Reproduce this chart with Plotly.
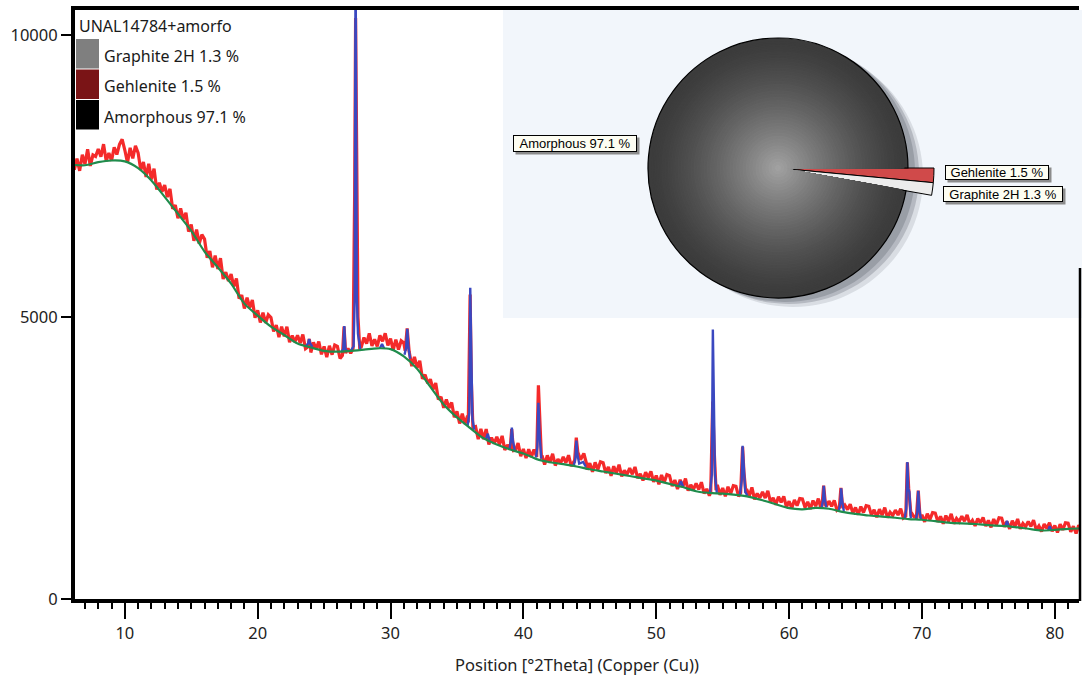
import numpy as np
import plotly.graph_objects as go

# ---------------- data ----------------
# measured pattern (red), 0.2 deg grid starting at 6.0 deg
red_start = 6.0
red_step = 0.2
red_base = [
    7870, 7614, 7808, 7592, 7876,   # 6
    7710, 7974, 7678, 7872, 7846,   # 7
    7980, 7842, 8064, 7766, 7908,   # 8
    7770, 8010, 7880, 8060, 8150,   # 9
    7960, 7734, 7998, 7812, 8036,   # 10
    7910, 7604, 7748, 7482, 7716,   # 11
    7440, 7630, 7260, 7380, 7220,   # 12
    7340, 7126, 7272, 6918, 6984,   # 13
    6750, 6926, 6732, 6848, 6514,   # 14
    6640, 6350, 6550, 6300, 6460,   # 15
    6380, 6050, 6170, 5880, 6090,   # 16
    5850, 6042, 5674, 5796, 5638,   # 17
    5760, 5542, 5684, 5326, 5388,   # 18
    5150, 5344, 5168, 5302, 4986,   # 19
    5118, 4902, 5078, 4894, 5038,   # 20
    4990, 4744, 4858, 4644, 4830,   # 21
    4656, 4828, 4552, 4668, 4560,   # 22
    4676, 4538, 4688, 4438, 4524,   # 23
    4370, 4550, 4434, 4566, 4338,   # 24
    4478, 4288, 4490, 4332, 4502,   # 25
    4480, 4264, 4408, 4224, 4440,   # 26
    4356, 4580, 4356, 4524, 4468,   # 27
    4636, 4528, 4708, 4488, 4604,   # 28
    4480, 4672, 4568, 4712, 4496,   # 29
    4618, 4412, 4598, 4424, 4578,   # 30
    4540, 4272, 4364, 4128, 4292,   # 31
    4096, 4224, 3904, 3976, 3824,   # 32
    3896, 3718, 3828, 3538, 3584,   # 33
    3390, 3536, 3386, 3484, 3222,   # 34
    3328, 3112, 3288, 3104, 3248,   # 35
    3200, 2948, 3056, 2836, 3016,   # 36
    2836, 3012, 2740, 2860, 2756,   # 37
    2876, 2740, 2892, 2644, 2732,   # 38
    2580, 2756, 2636, 2764, 2532,   # 39
    2659, 2498, 2656, 2520, 2652,   # 40
    2628, 2440, 2545, 2384, 2547,   # 41
    2418, 2574, 2367, 2478, 2407,   # 42
    2518, 2416, 2549, 2356, 2437,   # 43
    2322, 2469, 2374, 2481, 2295,   # 44
    2409, 2256, 2422, 2294, 2434,   # 45
    2418, 2234, 2343, 2186, 2353,   # 46
    2228, 2382, 2173, 2282, 2209,   # 47
    2318, 2212, 2341, 2144, 2221,   # 48
    2102, 2249, 2154, 2261, 2075,   # 49
    2189, 2034, 2198, 2068, 2206,   # 50
    2188, 2002, 2109, 1950, 2115,   # 51
    1988, 2136, 1921, 2024, 1945,   # 52
    2048, 1942, 2071, 1874, 1951,   # 53
    1832, 1989, 1904, 2021, 1845,   # 54
    1969, 1820, 1990, 1866, 2010,   # 55
    1998, 1818, 1931, 1778, 1949,   # 56
    1828, 1978, 1765, 1870, 1793,   # 57
    1898, 1790, 1917, 1718, 1793,   # 58
    1672, 1815, 1716, 1819, 1629,   # 59
    1733, 1610, 1757, 1655, 1780,   # 60
    1773, 1624, 1723, 1596, 1745,   # 61
    1646, 1780, 1605, 1700, 1641,   # 62
    1736, 1643, 1749, 1579, 1641,   # 63
    1537, 1664, 1586, 1679, 1524,   # 64
    1623, 1496, 1639, 1533, 1654,   # 65
    1643, 1488, 1581, 1448, 1591,   # 66
    1486, 1620, 1445, 1540, 1481,   # 67
    1576, 1489, 1601, 1437, 1505,   # 68
    1407, 1534, 1456, 1549, 1394,   # 69
    1493, 1368, 1513, 1409, 1532,   # 70
    1523, 1370, 1465, 1334, 1479,   # 71
    1376, 1510, 1335, 1430, 1371,   # 72
    1466, 1379, 1491, 1327, 1395,   # 73
    1297, 1426, 1350, 1445, 1292,   # 74
    1393, 1270, 1417, 1315, 1440,   # 75
    1433, 1280, 1375, 1244, 1389,   # 76
    1286, 1420, 1245, 1340, 1281,   # 77
    1376, 1287, 1397, 1231, 1297,   # 78
    1197, 1328, 1254, 1351, 1200,   # 79
    1303, 1180, 1327, 1225, 1350,   # 80
    1343, 1192, 1289, 1160, 1307,   # 81
    1250,                           # 82
]

# measured peaks (red), groups separated by None
red_pk_x = [23.78, 23.88, 23.98, None,
            26.38, 26.50, 26.62, None,
            27.18, 27.30, 27.37, 27.45, 27.55, 27.68, None,
            31.10, 31.25, 31.40, None,
            35.85, 35.99, 36.08, 36.20, None,
            39.00, 39.12, 39.26, None,
            41.00, 41.13, 41.24, 41.36, None,
            43.85, 43.98, 44.10, 44.30, 44.55, 44.75, None,
            54.10, 54.25, 54.35, 54.50, None,
            56.35, 56.50, 56.60, 56.75, None,
            62.48, 62.60, 62.74, None,
            63.78, 63.90, 64.04, None,
            68.78, 68.90, 69.00, 69.18, None,
            69.58, 69.72, 69.86]
red_pk_y = [4470, 4610, 4480, None,
            4320, 4830, 4360, None,
            4440, 7200, 10300, 8000, 5000, 4460, None,
            4400, 4800, 4390, None,
            3130, 5400, 3900, 3040, None,
            2650, 3010, 2630, None,
            2520, 3790, 2950, 2490, None,
            2440, 2860, 2600, 2470, 2580, 2400, None,
            1900, 3500, 2700, 1930, None,
            1880, 2700, 2250, 1880, None,
            1660, 2010, 1670, None,
            1620, 1970, 1610, None,
            1470, 2420, 1960, 1470, None,
            1450, 1920, 1440]

# calculated profile peaks (blue), segments separated by None
blue_x = [23.60, 23.80, 23.87, 23.95, 24.12, None,
          26.30, 26.44, 26.52, 26.60, 26.75, None,
          27.00, 27.22, 27.30, 27.37, 27.46, 27.55, 27.72, None,
          29.20, 29.36, 29.52, None,
          31.05, 31.17, 31.26, 31.35, 31.48, None,
          35.80, 35.93, 36.00, 36.08, 36.16, 36.30, None,
          37.18, 37.32, 37.46, None,
          38.95, 39.06, 39.13, 39.21, 39.35, None,
          40.95, 41.05, 41.13, 41.22, 41.35, None,
          43.80, 43.92, 43.99, 44.07, 44.20, 44.50, 44.70, None,
          51.70, 51.86, 52.02, None,
          54.05, 54.18, 54.26, 54.33, 54.42, 54.56, None,
          56.30, 56.43, 56.50, 56.58, 56.70, 56.86, None,
          62.45, 62.55, 62.61, 62.68, 62.80, None,
          63.75, 63.85, 63.92, 64.00, 64.12, None,
          68.70, 68.82, 68.90, 68.97, 69.05, 69.16, None,
          69.55, 69.65, 69.72, 69.80, 69.92, None,
          76.28, 76.40, 76.52, None,
          79.50, 79.62, 79.74]
blue_y = [4480, 4530, 4610, 4530, 4470, None,
          4385, 4430, 4840, 4430, 4390, None,
          4400, 4480, 5300, 11500, 5400, 4700, 4430, None,
          4445, 4520, 4440, None,
          4330, 4450, 4790, 4450, 4260, None,
          3070, 3300, 5520, 4200, 3200, 3000, None,
          2840, 2930, 2810, None,
          2660, 2800, 3040, 2800, 2640, None,
          2510, 2700, 3480, 2900, 2490, None,
          2370, 2500, 2810, 2560, 2400, 2430, 2345, None,
          2000, 2090, 1990, None,
          1890, 2200, 4780, 3400, 2200, 1880, None,
          1850, 2100, 2715, 2300, 1900, 1830, None,
          1620, 1750, 2006, 1780, 1625, None,
          1575, 1700, 1960, 1720, 1560, None,
          1425, 1600, 2430, 1950, 1900, 1430, None,
          1410, 1550, 1920, 1600, 1410, None,
          1292, 1386, 1290, None,
          1218, 1290, 1216]

# background (green)
bg_x = list(range(6, 83))
bg_y = [7700, 7690, 7745, 7775, 7760, 7640, 7420, 7130, 6830, 6525,   # 6-15
        6160, 5880, 5590, 5237, 5025, 4830, 4680, 4530, 4460, 4400,   # 16-25
        4385, 4400, 4420, 4445, 4430, 4300, 4080, 3760, 3450, 3220,   # 26-35
        3030, 2850, 2740, 2650, 2580, 2480, 2425, 2390, 2350, 2300,   # 36-45
        2260, 2220, 2180, 2140, 2100, 2040, 1985, 1910, 1880, 1870,   # 46-55
        1845, 1810, 1750, 1680, 1610, 1590, 1615, 1600, 1545, 1510,   # 56-65
        1480, 1462, 1440, 1416, 1405, 1380, 1355, 1340, 1330, 1310,   # 66-75
        1295, 1275, 1245, 1215, 1225, 1245, 1250]                     # 76-82

# phase quantification
sample_name = "UNAL14784+amorfo"
phase_names = ["Gehlenite", "Graphite 2H", "Amorphous"]
phase_pct = [1.5, 1.3, 97.1]
legend_order = ["Graphite 2H", "Gehlenite", "Amorphous"]

x_ticks = [10, 20, 30, 40, 50, 60, 70, 80]
y_ticks = [0, 5000, 10000]
y_ticktext = ["0", "5000", "10000"]
x_title = "Position [°2Theta] (Copper (Cu))"

# ---------------- build merged measured series ----------------
red_x = np.round(red_start + red_step * np.arange(len(red_base)), 2)
groups, cur = [], []
for x, y in zip(red_pk_x, red_pk_y):
    if x is None:
        if cur:
            groups.append(cur)
        cur = []
    else:
        cur.append((x, y))
if cur:
    groups.append(cur)
pts = list(zip(red_x.tolist(), red_base))
for g in groups:
    lo, hi = g[0][0], g[-1][0]
    pts = [p for p in pts if not (lo <= p[0] <= hi)]
    pts += g
pts.sort()
meas_x = [p[0] for p in pts]
meas_y = [p[1] for p in pts]

# ---------------- geometry helpers (pixel -> paper) ----------------
W, H = 1082, 681
PL, PR, PT, PB = 75, 1079, 10, 599


def fx(px):
    return (px - PL) / (PR - PL)


def fy(py):
    return (PB - py) / (PB - PT)


def pie_dom(cx, cy, r):
    return dict(x=[fx(cx - r), fx(cx + r)], y=[fy(cy + r), fy(cy - r)])


fig = go.Figure()

fig.add_trace(go.Scatter(x=meas_x, y=meas_y, mode="lines",
                         line=dict(color="#f42a2a", width=3.2), hoverinfo="skip"))
fig.add_trace(go.Scatter(x=blue_x, y=blue_y, mode="lines",
                         line=dict(color="#3a48c0", width=2.4), hoverinfo="skip"))
fig.add_trace(go.Scatter(x=bg_x, y=bg_y, mode="lines",
                         line=dict(color="#1f8c4c", width=2.2, shape="spline", smoothing=0.8),
                         hoverinfo="skip"))

# ---------------- inset pie ----------------
CX, CY, R = 778, 168, 130
R_SMALL = 156
common = dict(labels=phase_names, values=phase_pct, sort=False, direction="clockwise",
              rotation=90, textinfo="none", hoverinfo="skip", showlegend=False)
clear = "rgba(0,0,0,0)"

# soft shadow
for dx, dy, a in [(15, 9, 0.16), (11, 6, 0.28), (7, 4, 0.30)]:
    fig.add_trace(go.Pie(**common, domain=pie_dom(CX + dx, CY + dy, R),
                         marker=dict(colors=[f"rgba(90,95,105,{a})"] * 3, line=dict(width=0))))
# minor phases (longer wedges)
fig.add_trace(go.Pie(**common, domain=pie_dom(CX, CY, R_SMALL),
                     marker=dict(colors=["#d04a4a", "#ececec", clear],
                                 line=dict(color=["#000", "#000", clear], width=1))))
# amorphous wedge with radial shading
fig.add_trace(go.Pie(**common, domain=pie_dom(CX, CY, R),
                     marker=dict(colors=[clear, clear, "#3c3c3c"],
                                 line=dict(color=[clear, clear, "#000"], width=1.2))))
NL = 40
for i in range(1, NL):
    f = 1 - i / NL
    b = int(60 + 105 * (1 - f) ** 1.4)
    col = f"rgb({b},{b},{b})"
    fig.add_trace(go.Pie(**common, domain=pie_dom(CX, CY, R * f - 1),
                         marker=dict(colors=[clear, clear, col],
                                     line=dict(color=[clear, clear, col], width=1.5))))

shapes = []
# inset background
shapes.append(dict(type="rect", xref="paper", yref="paper", x0=fx(503), x1=fx(1083),
                   y0=fy(318), y1=fy(10), fillcolor="#f2f6fb", line=dict(width=0), layer="below"))
# right frame line (partly hidden by inset)
shapes.append(dict(type="line", xref="paper", yref="paper", x0=fx(1080), x1=fx(1080),
                   y0=fy(601), y1=fy(268), line=dict(color="black", width=2.5), layer="above"))

annotations = []
# legend block
annotations.append(dict(text=sample_name, x=fx(77), y=fy(26), xref="paper", yref="paper",
                        xanchor="left", yanchor="middle", showarrow=False,
                        font=dict(size=16, color="#1a1a1a")))
sw_colors = {"Graphite 2H": "#7f7f7f", "Gehlenite": "#7a1416", "Amorphous": "#000000"}
pct_of = dict(zip(phase_names, phase_pct))
sw_top = [39, 69.5, 100]
for name, top in zip(legend_order, sw_top):
    shapes.append(dict(type="rect", xref="paper", yref="paper", x0=fx(76), x1=fx(99),
                       y0=fy(top + 29.5), y1=fy(top), fillcolor=sw_colors[name],
                       line=dict(width=0), layer="above"))
    annotations.append(dict(text=f"{name} {pct_of[name]} %", x=fx(102), y=fy(top + 17),
                            xref="paper", yref="paper", xanchor="left", yanchor="middle",
                            showarrow=False, font=dict(size=16, color="#1a1a1a")))

# pie labels (boxed, with drop shadow): centre x, centre y, box width, box height
label_box = {"Amorphous": (575, 143.5, 124, 17),
             "Gehlenite": (997, 172.5, 104, 15),
             "Graphite 2H": (1003, 194, 120, 16)}
for name in phase_names:
    cx, cy, bw, bh = label_box[name]
    shapes.append(dict(type="rect", xref="paper", yref="paper",
                       x0=fx(cx - bw / 2 + 2.5), x1=fx(cx + bw / 2 + 2.5),
                       y0=fy(cy + bh / 2 + 2.5), y1=fy(cy - bh / 2 + 2.5),
                       fillcolor="#8c8c8c", line=dict(width=0), layer="above"))
    annotations.append(dict(text=f"{name} {pct_of[name]} %", x=fx(cx), y=fy(cy),
                            xref="paper", yref="paper", xanchor="center", yanchor="middle",
                            showarrow=False, width=bw - 2, height=bh - 2,
                            font=dict(family="Liberation Sans, Arial", size=13, color="#000"),
                            bgcolor="#fdfdf2", bordercolor="#000", borderwidth=1, borderpad=0))

fig.update_layout(
    width=W, height=H,
    margin=dict(l=PL, r=W - PR, t=PT, b=H - PB),
    paper_bgcolor="white", plot_bgcolor="white",
    showlegend=False,
    font=dict(family="Noto Sans, Open Sans, sans-serif", size=16, color="#222"),
    shapes=shapes, annotations=annotations,
)
fig.update_xaxes(range=[6.25, 81.82], tickvals=x_ticks, ticks="outside", ticklen=16,
                 tickwidth=2, tickcolor="black", showline=True, linewidth=4, linecolor="black",
                 mirror=True, showgrid=False, zeroline=False, tickfont=dict(size=16.5),
                 minor=dict(dtick=1, ticks="outside", ticklen=6, tickwidth=1.5,
                            tickcolor="black", showgrid=False),
                 title=dict(text=x_title, font=dict(size=16.5, color="#222"), standoff=18))
fig.update_yaxes(range=[0, 10443], tickvals=y_ticks, ticktext=y_ticktext, ticks="outside",
                 ticklen=10, tickwidth=2, tickfont=dict(size=16.5),
                 tickcolor="black", showline=True, linewidth=4, linecolor="black",
                 showgrid=False, zeroline=False)

fig.write_html("out.html")
